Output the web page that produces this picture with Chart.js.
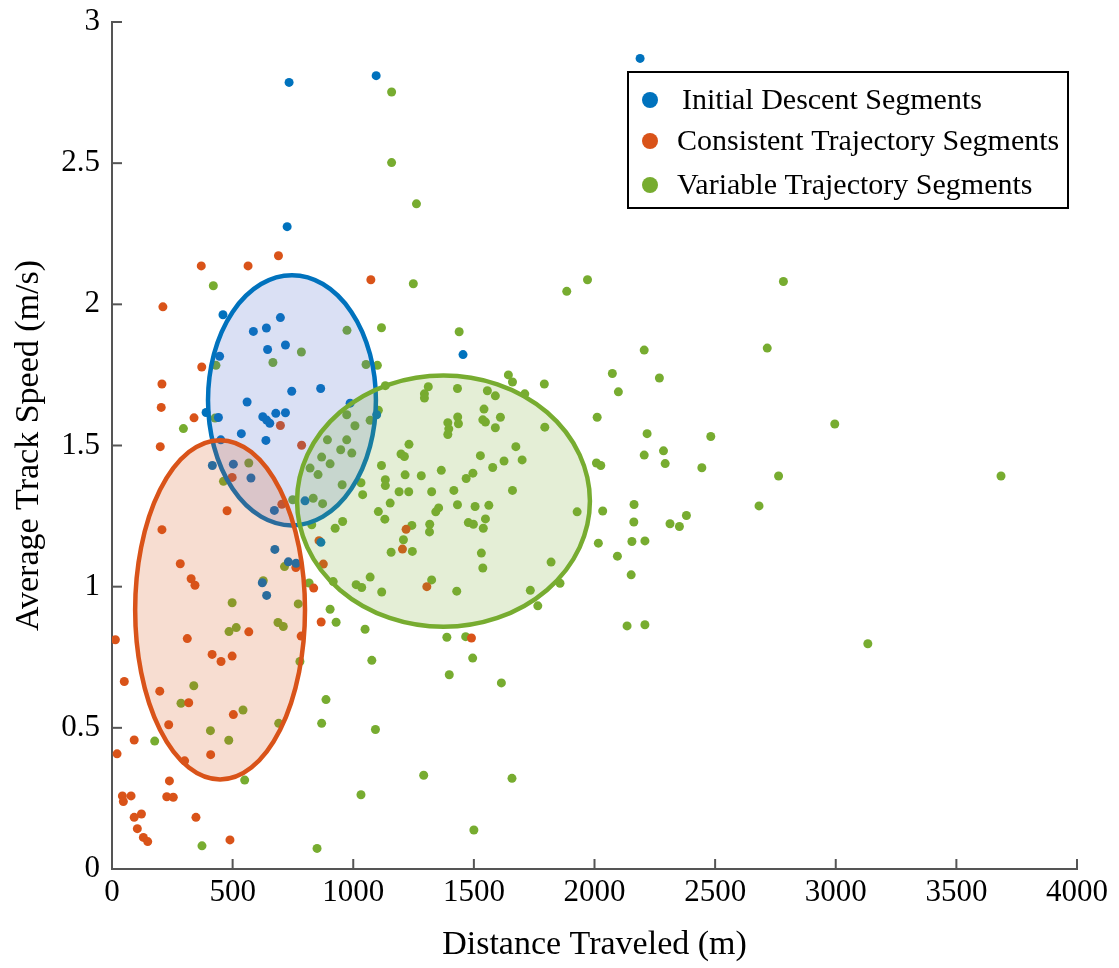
<!DOCTYPE html>
<html>
<head>
<meta charset="utf-8">
<script src="https://cdn.jsdelivr.net/npm/chart.js@4.4.1/dist/chart.umd.min.js"></script>
<style>
  html, body { margin: 0; padding: 0; background: #fff; }
  #wrap { width: 1119px; height: 968px; }
</style>
</head>
<body>
<div id="wrap"><canvas id="segmentsChart" width="1119" height="968"></canvas></div>
<script>
// axes
const xTicks = [0, 500, 1000, 1500, 2000, 2500, 3000, 3500, 4000];
const yTicks = [0, 0.5, 1, 1.5, 2, 2.5, 3];

const seriesLabels = ["Initial Descent Segments", "Consistent Trajectory Segments", "Variable Trajectory Segments"];
const seriesColors = ["#0072BD", "#D95319", "#77AC30"];

// [distance (m), speed (m/s)]
const initialDescent = [
  [2189, 2.871], [734, 2.786], [1095, 2.810], [726, 2.275], [460, 1.963], [698, 1.953],
  [586, 1.904], [640, 1.916], [645, 1.840], [719, 1.856], [446, 1.816], [745, 1.692],
  [865, 1.702], [560, 1.654], [390, 1.617], [441, 1.599], [625, 1.602], [641, 1.590],
  [654, 1.579], [679, 1.614], [719, 1.616], [536, 1.542], [638, 1.518], [987, 1.650],
  [1097, 1.609], [451, 1.520], [416, 1.429], [503, 1.434], [576, 1.385], [1455, 1.822],
  [673, 1.270], [675, 1.132], [731, 1.088], [763, 1.083], [623, 1.014], [641, 0.969],
  [800, 1.304], [866, 1.157]
];

const consistentTrajectory = [
  [370, 2.136], [564, 2.136], [690, 2.172], [1073, 2.087], [211, 1.991], [372, 1.778],
  [207, 1.718], [204, 1.635], [340, 1.598], [698, 1.571], [200, 1.496], [786, 1.501],
  [498, 1.387], [477, 1.269], [207, 1.202], [283, 1.081], [328, 1.028], [344, 1.005],
  [704, 1.292], [762, 1.068], [836, 0.995], [858, 1.163], [876, 1.080], [14, 0.812],
  [312, 0.816], [567, 0.840], [498, 0.754], [415, 0.760], [452, 0.735], [784, 0.825],
  [867, 0.875], [51, 0.664], [198, 0.630], [318, 0.589], [503, 0.547], [235, 0.511],
  [92, 0.457], [21, 0.408], [409, 0.405], [301, 0.383], [238, 0.312], [43, 0.259],
  [79, 0.259], [47, 0.239], [227, 0.256], [254, 0.254], [122, 0.195], [92, 0.183],
  [348, 0.183], [105, 0.143], [130, 0.112], [148, 0.097], [489, 0.103], [1219, 1.203],
  [1204, 1.133], [1305, 1.000], [1490, 0.818]
];

const variableTrajectory = [
  [1159, 2.752], [1159, 2.502], [1262, 2.356], [1249, 2.073], [1971, 2.087], [1885, 2.046],
  [1117, 1.917], [1439, 1.903], [2206, 1.838], [2074, 1.755], [2269, 1.739], [2099, 1.690],
  [1100, 1.784], [1053, 1.787], [1643, 1.750], [1660, 1.725], [1792, 1.718], [1711, 1.683],
  [1589, 1.676], [1556, 1.694], [1311, 1.708], [1295, 1.683], [1295, 1.668], [1432, 1.702],
  [1133, 1.712], [1104, 1.625], [1542, 1.629], [1610, 1.600], [1537, 1.591], [1548, 1.583],
  [1589, 1.563], [1433, 1.601], [1436, 1.577], [1392, 1.581], [1396, 1.559], [1392, 1.539],
  [1794, 1.565], [2011, 1.600], [2218, 1.542], [2286, 1.481], [2293, 1.436], [2206, 1.466],
  [2008, 1.438], [2026, 1.429], [1231, 1.504], [1198, 1.470], [1212, 1.461], [1674, 1.496],
  [1527, 1.464], [1625, 1.445], [1700, 1.449], [1578, 1.422], [1365, 1.412], [1282, 1.393],
  [1215, 1.396], [1117, 1.429], [1133, 1.379], [1133, 1.358], [1496, 1.402], [1468, 1.383],
  [1190, 1.336], [1230, 1.336], [1325, 1.336], [1417, 1.341], [1660, 1.341], [1153, 1.296],
  [1104, 1.266], [1131, 1.239], [1342, 1.265], [1354, 1.279], [1432, 1.290], [1505, 1.284],
  [1562, 1.288], [1243, 1.217], [1317, 1.221], [1316, 1.194], [1208, 1.166], [1157, 1.122],
  [1245, 1.125], [1477, 1.227], [1498, 1.221], [1548, 1.240], [1539, 1.207], [1531, 1.119],
  [1537, 1.066], [1325, 1.024], [1118, 0.981], [1429, 0.984], [1820, 1.087], [1928, 1.265],
  [2034, 1.268], [2164, 1.291], [2163, 1.229], [2313, 1.223], [2352, 1.213], [2381, 1.252],
  [2016, 1.154], [2155, 1.160], [2209, 1.162], [2095, 1.108], [2152, 1.042], [1857, 1.012],
  [1734, 0.987], [1765, 0.932], [1388, 0.821], [1466, 0.823], [1495, 0.747], [1398, 0.688],
  [1614, 0.659], [2135, 0.861], [2209, 0.865], [1292, 0.332], [1658, 0.321], [1500, 0.138],
  [1092, 0.494], [2783, 2.081], [2716, 1.845], [2996, 1.576], [2482, 1.532], [2445, 1.421],
  [2763, 1.392], [2682, 1.286], [3685, 1.392], [3133, 0.798],
  [420, 2.066], [974, 1.908], [785, 1.831], [667, 1.794], [431, 1.784], [296, 1.560],
  [427, 1.597], [567, 1.438], [462, 1.373], [973, 1.609], [1070, 1.589], [1007, 1.570],
  [893, 1.520], [973, 1.520], [948, 1.485], [994, 1.473], [869, 1.459], [904, 1.435],
  [821, 1.420], [854, 1.397], [1032, 1.368], [954, 1.361], [1039, 1.326], [834, 1.313],
  [873, 1.294], [749, 1.308], [956, 1.231], [925, 1.207], [828, 1.219], [1070, 1.034],
  [1012, 1.007], [1035, 0.997], [917, 1.018], [817, 1.013], [904, 0.920], [929, 0.874],
  [1049, 0.849], [772, 0.939], [715, 1.071], [627, 1.021], [1077, 0.739], [688, 0.873],
  [710, 0.859], [498, 0.943], [485, 0.841], [515, 0.855], [779, 0.735], [887, 0.600],
  [869, 0.516], [691, 0.516], [339, 0.649], [286, 0.587], [543, 0.563], [408, 0.490],
  [484, 0.456], [177, 0.453], [550, 0.315], [373, 0.082], [850, 0.073], [1032, 0.263]
];

// cluster ellipses: centre and semi-axes in data units
const ellipseCenters = [[746, 1.660], [448, 0.918], [1374, 1.303]];
const ellipseRadii = [[348, 0.443], [352, 0.601], [607, 0.445]];
const ellipseFills = ["rgba(70, 100, 200, 0.2)", "rgba(217, 83, 25, 0.2)", "rgba(119, 172, 48, 0.2)"];

const serifFont = "'Liberation Serif', 'Times New Roman', serif";

function toPoints(pairs) {
    return pairs.map(p => ({ x: p[0], y: p[1] }));
}

// ellipses are drawn over the dots, like in the original figure
const ellipsePlugin = {
    id: "clusterEllipses",
    afterDatasetsDraw(chart) {
        const ctx = chart.ctx;
        const xs = chart.scales.x, ys = chart.scales.y;
        const area = chart.chartArea;
        ctx.save();
        ctx.beginPath();
        ctx.rect(area.left, area.top, area.right - area.left, area.bottom - area.top);
        ctx.clip();
        ellipseCenters.forEach((c, i) => {
            const cx = xs.getPixelForValue(c[0]);
            const cy = ys.getPixelForValue(c[1]);
            const rx = Math.abs(xs.getPixelForValue(c[0] + ellipseRadii[i][0]) - cx);
            const ry = Math.abs(ys.getPixelForValue(c[1] + ellipseRadii[i][1]) - cy);
            ctx.beginPath();
            ctx.ellipse(cx, cy, rx, ry, 0, 0, Math.PI * 2);
            ctx.fillStyle = ellipseFills[i];
            ctx.fill();
            ctx.lineWidth = 4.5;
            ctx.strokeStyle = seriesColors[i];
            ctx.stroke();
        });
        ctx.restore();
    }
};

// inward ticks + boxed legend
const axisExtras = {
    id: "axisExtras",
    afterDraw(chart) {
        const ctx = chart.ctx;
        const xs = chart.scales.x, ys = chart.scales.y;
        const area = chart.chartArea;
        ctx.save();
        ctx.strokeStyle = "#555";
        ctx.lineWidth = 2;
        xTicks.forEach(v => {
            const px = xs.getPixelForValue(v);
            ctx.beginPath();
            ctx.moveTo(px, area.bottom);
            ctx.lineTo(px, area.bottom - 10);
            ctx.stroke();
        });
        yTicks.forEach(v => {
            const py = ys.getPixelForValue(v);
            ctx.beginPath();
            ctx.moveTo(area.left, py);
            ctx.lineTo(area.left + 10, py);
            ctx.stroke();
        });

        // legend
        const boxRight = area.right - 9;
        const boxLeft = boxRight - 440;
        const boxTop = area.top + 50;
        const boxH = 136;
        ctx.fillStyle = "#fff";
        ctx.fillRect(boxLeft, boxTop, boxRight - boxLeft, boxH);
        ctx.strokeStyle = "#000";
        ctx.lineWidth = 2;
        ctx.strokeRect(boxLeft, boxTop, boxRight - boxLeft, boxH);
        ctx.font = "30px " + serifFont;
        ctx.textBaseline = "middle";
        ctx.textAlign = "left";
        const rowY = [28, 69, 113];
        seriesLabels.forEach((label, i) => {
            const y = boxTop + rowY[i];
            ctx.beginPath();
            ctx.arc(boxLeft + 22, y, 8, 0, Math.PI * 2);
            ctx.fillStyle = seriesColors[i];
            ctx.fill();
            ctx.fillStyle = "#000";
            ctx.fillText(label, boxLeft + (i === 0 ? 54 : 49), y + 1);
        });
        ctx.restore();
    }
};

document.addEventListener("DOMContentLoaded", function () {
    let ctx = document.getElementById("segmentsChart").getContext("2d");
    let allSeries = [initialDescent, consistentTrajectory, variableTrajectory];

    new Chart(ctx, {
        type: "scatter",
        data: {
            datasets: allSeries.map((pairs, i) => ({
                label: seriesLabels[i],
                data: toPoints(pairs),
                backgroundColor: seriesColors[i],
                borderWidth: 0,
                pointRadius: 4.5,
                pointHoverRadius: 4.5
            }))
        },
        options: {
            responsive: false,
            animation: false,
            devicePixelRatio: 1,
            layout: { padding: { top: 22, right: 42, left: 0, bottom: 0 } },
            plugins: {
                legend: { display: false },
                tooltip: { enabled: false }
            },
            scales: {
                x: {
                    type: "linear",
                    min: 0,
                    max: 4000,
                    afterBuildTicks: s => { s.ticks = xTicks.map(v => ({ value: v })); },
                    afterFit: s => { s.height = 99; s.paddingLeft = 0; s.paddingRight = 0; },
                    grid: { display: false, drawTicks: false },
                    border: { display: true, color: "#555", width: 2 },
                    ticks: {
                        color: "#000",
                        padding: 5,
                        maxRotation: 0,
                        font: { family: serifFont, size: 31 },
                        callback: v => String(v)
                    },
                    title: {
                        display: true,
                        text: "Distance Traveled (m)",
                        color: "#000",
                        font: { family: serifFont, size: 34 },
                        padding: { top: 0, bottom: 3 }
                    }
                },
                y: {
                    type: "linear",
                    min: 0,
                    max: 3,
                    afterBuildTicks: s => { s.ticks = yTicks.map(v => ({ value: v })); },
                    afterFit: s => { s.width = 112; s.paddingTop = 0; s.paddingBottom = 0; },
                    grid: { display: false, drawTicks: false },
                    border: { display: true, color: "#555", width: 2 },
                    ticks: {
                        color: "#000",
                        padding: 12,
                        font: { family: serifFont, size: 31 },
                        callback: v => String(v)
                    },
                    title: {
                        display: true,
                        text: "Average Track Speed (m/s)",
                        color: "#000",
                        font: { family: serifFont, size: 34 },
                        padding: { top: 9, bottom: 0 }
                    }
                }
            }
        },
        plugins: [ellipsePlugin, axisExtras]
    });
});
</script>
</body>
</html>
